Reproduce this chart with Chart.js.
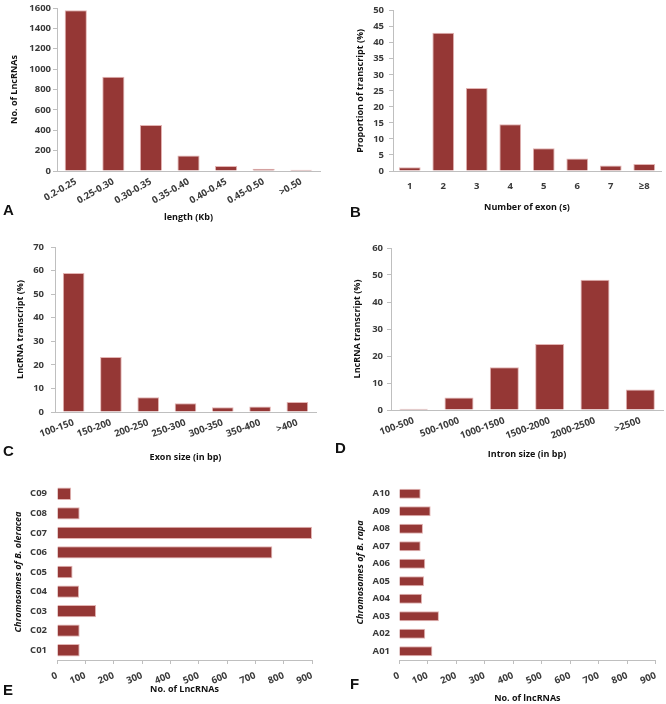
<!DOCTYPE html>
<html>
<head>
<meta charset="utf-8">
<script src="https://cdn.jsdelivr.net/npm/chart.js@4"></script>
<style>
  body { margin: 0; background: #fff; }
  #wrap { position: relative; width: 666px; height: 704px; overflow: hidden; }
  canvas { position: absolute; }
  .tag { position: absolute; font: bold 15px "Liberation Sans", Arial, sans-serif; color: #111; line-height: 1; }
</style>
</head>
<body>
<div id="wrap">
  <canvas id="chartA" width="333" height="230" style="left:0;top:0"></canvas>
  <canvas id="chartB" width="333" height="230" style="left:333px;top:0"></canvas>
  <canvas id="chartC" width="333" height="234" style="left:0;top:230px"></canvas>
  <canvas id="chartD" width="333" height="234" style="left:333px;top:230px"></canvas>
  <canvas id="chartE" width="333" height="244" style="left:0;top:460px"></canvas>
  <canvas id="chartF" width="333" height="244" style="left:333px;top:460px"></canvas>
  <div class="tag" style="left:3px;top:202px">A</div>
  <div class="tag" style="left:350px;top:204px">B</div>
  <div class="tag" style="left:3px;top:443px">C</div>
  <div class="tag" style="left:335px;top:440px">D</div>
  <div class="tag" style="left:3px;top:682px">E</div>
  <div class="tag" style="left:350px;top:676px">F</div>
</div>
<script>
// A - transcript length
const lengthBins = ['0.2-0.25', '0.25-0.30', '0.30-0.35', '0.35-0.40', '0.40-0.45', '0.45-0.50', '>0.50'];
const lengthCounts = [1577, 925, 452, 151, 48, 22, 13];

// B - exon number
const exonNumbers = ['1', '2', '3', '4', '5', '6', '7', '≥8'];
const exonNumberPct = [1.2, 43.1, 25.9, 14.6, 7.1, 3.9, 1.7, 2.2];

// C - exon size
const exonSizeBins = ['100-150', '150-200', '200-250', '250-300', '300-350', '350-400', '>400'];
const exonSizePct = [59, 23.3, 6.3, 3.7, 2.0, 2.3, 4.2];

// D - intron size
const intronSizeBins = ['100-500', '500-1000', '1000-1500', '1500-2000', '2000-2500', '>2500'];
const intronSizePct = [0.5, 4.6, 15.8, 24.4, 48.2, 7.6];

// E - B. oleracea chromosomes
const oleraceaChr = ['C09', 'C08', 'C07', 'C06', 'C05', 'C04', 'C03', 'C02', 'C01'];
const oleraceaCounts = [50, 80, 900, 760, 55, 78, 138, 80, 80];

// F - B. rapa chromosomes
const rapaChr = ['A10', 'A09', 'A08', 'A07', 'A06', 'A05', 'A04', 'A03', 'A02', 'A01'];
const rapaCounts = [76, 111, 84, 76, 92, 88, 81, 140, 92, 117];

const FONT = '"Open Sans", sans-serif';
const BAR = '#953735';
const EDGE = '#e3b4b3';
const AXIS = '#bfbfbf';
const TICKTXT = '#3a3a3a';
const TICKSIZE = 9.5;
const TITLESIZE = 9;

Chart.defaults.font.family = FONT;
Chart.defaults.animation = false;

// builds one panel; sizes keep the plot area where the figure has it
function panel(id, labels, values, o) {
  const horiz = !!o.horiz;
  const valueAxis = {
    min: 0, max: o.max,
    ticks: { stepSize: o.step, color: TICKTXT, font: { size: TICKSIZE, weight: 'bold' }, padding: o.valPad,
             minRotation: horiz ? 22 : 0, maxRotation: horiz ? 22 : 0,
             callback: v => String(v) },
    grid: { drawOnChartArea: false, drawTicks: true, tickLength: 4, color: AXIS },
    border: { color: AXIS },
    title: { display: true, text: o.valTitle, color: '#111', font: { size: TITLESIZE, weight: 'bold', style: o.valItalic ? 'italic' : 'normal' } }
  };
  const catAxis = {
    ticks: { color: TICKTXT, font: { size: TICKSIZE, weight: 'bold' }, padding: o.catPad, autoSkip: false,
             minRotation: o.catRot || 0, maxRotation: o.catRot || 0 },
    grid: { display: false, drawTicks: false },
    border: { color: horiz ? 'rgba(0,0,0,0)' : AXIS },
    title: { display: true, text: o.catTitle, color: '#111', font: { size: TITLESIZE, weight: 'bold', style: o.catItalic ? 'italic' : 'normal' } }
  };
  const xAx = horiz ? valueAxis : catAxis;
  const yAx = horiz ? catAxis : valueAxis;
  xAx.afterFit = s => { s.height = o.xh; };
  yAx.afterFit = s => { s.width = o.yw; };
  if (horiz) {
    // title offsets on the left axis read padding.top, on the bottom padding.bottom
    xAx.title.padding = { top: 0, bottom: o.valTitlePad };
    yAx.title.padding = { top: o.catTitlePad, bottom: 0 };
  } else {
    xAx.title.padding = { top: 0, bottom: o.catTitlePad };
    yAx.title.padding = { top: o.valTitlePad, bottom: 0 };
  }
  new Chart(document.getElementById(id), {
    type: 'bar',
    data: {
      labels: labels,
      datasets: [{ data: values, backgroundColor: BAR, borderColor: EDGE, borderWidth: 1,
                   barPercentage: o.barPct, categoryPercentage: 1 }]
    },
    options: {
      indexAxis: horiz ? 'y' : 'x',
      responsive: false,
      layout: { padding: { top: o.padTop, right: o.padRight, left: 0, bottom: 0 } },
      plugins: { legend: { display: false }, tooltip: { enabled: false } },
      scales: { x: xAx, y: yAx }
    }
  });
}

panel('chartA', lengthBins, lengthCounts, {
  max: 1600, step: 200, valTitle: 'No. of LncRNAs', catTitle: 'length (Kb)',
  yw: 57, xh: 59, padTop: 8, padRight: 13, barPct: 0.59, catRot: 30,
  valPad: 2, catPad: 5, valTitlePad: 9, catTitlePad: 7
});
panel('chartB', exonNumbers, exonNumberPct, {
  max: 50, step: 5, valTitle: 'Proportion of transcript (%)', catTitle: 'Number of exon (s)',
  yw: 60, xh: 59, padTop: 7, padRight: 5, barPct: 0.65, catRot: 0,
  valPad: 5, catPad: 10, valTitlePad: 22, catTitlePad: 17
});
panel('chartC', exonSizeBins, exonSizePct, {
  max: 70, step: 10, valTitle: 'LncRNA transcript (%)', catTitle: 'Exon size (in bp)',
  yw: 55, xh: 52, padTop: 17, padRight: 17, barPct: 0.58, catRot: 20,
  valPad: 7, catPad: 5, valTitlePad: 15, catTitlePad: 1
});
panel('chartD', intronSizeBins, intronSizePct, {
  max: 60, step: 10, valTitle: 'LncRNA transcript (%)', catTitle: 'Intron size (in bp)',
  yw: 58, xh: 54, padTop: 18, padRight: 3, barPct: 0.64, catRot: 20,
  valPad: 4, catPad: 5, valTitlePad: 19, catTitlePad: 4
});
panel('chartE', oleraceaChr, oleraceaCounts, {
  horiz: true, max: 900, step: 100, valTitle: 'No. of LncRNAs', catTitle: 'Chromosomes of B. oleracea', catItalic: true,
  yw: 57, xh: 44, padTop: 24, padRight: 21, barPct: 0.63,
  valPad: 6, catPad: 10, valTitlePad: 9, catTitlePad: 13
});
panel('chartF', rapaChr, rapaCounts, {
  horiz: true, max: 900, step: 100, valTitle: 'No. of lncRNAs', catTitle: 'Chromosomes of B. rapa', catItalic: true,
  yw: 66, xh: 44, padTop: 25, padRight: 7, barPct: 0.57,
  valPad: 6, catPad: 9, valTitlePad: 0, catTitlePad: 22
});
</script>
</body>
</html>
